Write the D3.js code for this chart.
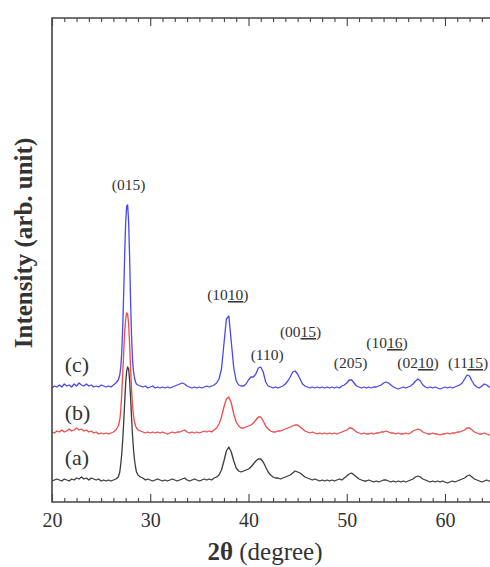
<!DOCTYPE html>
<html>
<head>
<meta charset="utf-8">
<script src="https://cdn.jsdelivr.net/npm/d3@7/dist/d3.min.js"></script>
<style>
  html, body { margin: 0; padding: 0; background: #fff; }
  svg { display: block; }
  text { font-family: "Liberation Serif", "Times New Roman", serif; fill: #333; }
</style>
</head>
<body>
<svg id="chart" width="490" height="567"></svg>
<script>
// ---- data (2θ in degrees, intensity in arbitrary units, curves already offset) ----
const twoTheta = [
  20,20.25,20.5,20.75,21,21.25,21.5,21.75,22,22.25,22.5,22.75,23,23.25,23.5,23.75,24,24.25,24.5,24.75,25,25.25,25.5,25.75,26,26.25,26.5,26.75,
  26.9,27,27.1,27.2,27.3,27.4,27.5,27.6,27.7,27.8,27.9,28,28.1,28.2,28.3,28.4,28.5,28.6,
  28.75,29,29.25,29.5,29.75,
  30,30.25,30.5,30.75,31,31.25,31.5,31.75,32,32.25,32.5,32.75,33,33.25,33.5,33.75,34,34.25,34.5,34.75,
  35,35.25,35.5,35.75,36,36.25,36.5,36.75,37,37.25,37.5,37.75,38,38.25,38.5,38.75,39,39.25,39.5,39.75,
  40,40.25,40.5,40.75,41,41.25,41.5,41.75,42,42.25,42.5,42.75,43,43.25,43.5,43.75,44,44.25,44.5,44.75,
  45,45.25,45.5,45.75,46,46.25,46.5,46.75,47,47.25,47.5,47.75,48,48.25,48.5,48.75,49,49.25,49.5,49.75,
  50,50.25,50.5,50.75,51,51.25,51.5,51.75,52,52.25,52.5,52.75,53,53.25,53.5,53.75,54,54.25,54.5,54.75,
  55,55.25,55.5,55.75,56,56.25,56.5,56.75,57,57.25,57.5,57.75,58,58.25,58.5,58.75,59,59.25,59.5,59.75,
  60,60.25,60.5,60.75,61,61.25,61.5,61.75,62,62.25,62.5,62.75,63,63.25,63.5,63.75,64,64.25,64.5,64.75,
  65,65.25
];

const sampleA = [
  21,22,23,22,21,23,22,21,23,22,24,23,25,23,24,22,24,23,22,23,21,22,21,22,21,22,23,25,
  30,38,48,62,80,100,119,131,135,133,122,104,84,66,52,42,35,30,
  27,25,24,22,23,
  22,21,22,23, 22,21,22,21, 22,23,22,21, 22,23,24,22, 21,22,23,22,
  21,22,23,22, 23,22,24,25, 27,32,41,51, 55,50,41,34, 31,30,31,32,
  33,35,38,41, 43,43,40,35, 30,27,25,24, 24,23,24,25, 26,27,29,31,
  30,29,27,25, 24,23,22,23, 22,21,22,21, 22,21,22,21, 22,23,22,24,
  26,28,29,27, 25,23,22,21, 21,22,21,20, 21,20,21,22, 22,21,20,21,
  20,21,20,21, 20,21,22,23, 25,26,25,23, 22,21,20,21, 20,21,20,21,
  20,19,20,21, 20,21,22,23, 24,26,27,25, 23,22,21,20, 21,22,21,20,
  21,20
];

const sampleB = [
  70,69,71,70,72,70,71,73,71,72,74,72,73,71,72,70,71,69,70,68,69,68,69,68,69,70,72,76,
  82,92,108,128,150,170,183,189,188,178,158,133,112,96,86,80,76,74,
  72,71,70,69,70,
  69,70,69,70, 69,70,69,68, 69,70,69,70, 70,71,72,70, 69,70,69,70,
  69,70,71,70, 71,70,72,74, 78,85,95,103, 105,99,88,80, 76,74,74,75,
  76,77,79,82, 85,85,81,76, 73,71,70,70, 71,71,72,73, 74,75,76,77,
  77,75,73,71, 70,69,70,69, 68,69,68,69, 68,69,68,69, 68,69,70,71,
  72,74,74,72, 70,69,68,69, 68,68,69,68, 69,69,70,70, 71,70,69,69,
  68,69,68,68, 69,68,69,71, 72,73,72,70, 69,68,68,69, 68,68,67,68,
  68,69,68,69, 69,70,70,71, 72,74,74,72, 70,69,68,68, 69,68,67,68,
  68,67
];

const sampleC = [
  114,116,115,117,115,118,116,117,115,118,116,119,117,116,118,116,117,115,116,115,117,116,115,116,115,117,119,122,
  127,135,150,175,210,248,280,296,297,280,245,200,165,142,130,124,120,118,
  117,116,115,116,114,
  115,116,114,115, 114,115,114,115, 114,115,116,117, 118,119,118,116, 115,114,115,114,
  115,114,115,116, 115,116,117,119, 123,133,158,183, 186,160,134,121, 117,116,116,118,
  122,125,125,128, 134,135,130,120, 116,115,114,115, 114,115,116,118, 121,125,130,131,
  128,123,118,116, 115,114,115,114, 115,114,115,114, 115,114,115,114, 115,114,116,117,
  119,122,122,119, 116,115,114,115, 114,115,114,115, 115,116,117,119, 120,119,117,115,
  114,113,114,115, 114,115,116,118, 121,123,121,117, 115,114,115,114, 115,114,113,114,
  115,114,115,114, 115,116,117,119, 123,127,126,121, 117,115,114,116, 118,117,115,114,
  115,114
];

const seriesNames = ["(a)", "(b)", "(c)"];
const seriesColors = ["#3c3c3c", "#f04848", "#4848f0"];
const seriesLabelAt = [[21.3, 37], [21.3, 82], [21.3, 130]]; // [2θ, intensity]

const xTicks = [20, 30, 40, 50, 60];

// peak annotations: [text before underline, underlined part, text after], anchor 2θ, intensity, alignment
const peakLabels = [
  { pre: "(015)", ul: "", post: "", t: 27.8, v: 312, anchor: "middle" },
  { pre: "(10", ul: "10", post: ")", t: 37.9, v: 202, anchor: "middle" },
  { pre: "(110)", ul: "", post: "", t: 41.9, v: 142, anchor: "middle" },
  { pre: "(00", ul: "15", post: ")", t: 45.3, v: 165, anchor: "middle" },
  { pre: "(205)", ul: "", post: "", t: 50.4, v: 134, anchor: "middle" },
  { pre: "(10", ul: "16", post: ")", t: 54.1, v: 154, anchor: "middle" },
  { pre: "(02", ul: "10", post: ")", t: 57.25, v: 134, anchor: "middle" },
  { pre: "(11", ul: "15", post: ")", t: 60.3, v: 134, anchor: "start" }
];

// ---- drawing ----
const svg = d3.select("#chart");
const x = d3.scaleLinear().domain([20, 65]).range([52, 494.1]);
const y = d3.scaleLinear().domain([0, 484]).range([502, 18]);

const series = [sampleA, sampleB, sampleC];
const line = d3.line()
  .defined(d => d[1] != null && !isNaN(d[1]))
  .x(d => x(d[0])).y(d => y(d[1]));

series.forEach((vals, i) => {
  const pts = twoTheta.map((t, j) => [t, vals[j]]);
  svg.append("path")
    .datum(pts)
    .attr("fill", "none")
    .attr("stroke", seriesColors[i])
    .attr("stroke-width", 1.3)
    .attr("stroke-linejoin", "round")
    .attr("d", line);
});

// axes
const minorTicks = d3.range(20, 65.01, 1.25).filter(v => !xTicks.includes(v));
const axisColor = "#444";

const gB = svg.append("g").attr("transform", "translate(0,502)");
gB.call(d3.axisBottom(x).tickValues(minorTicks).tickSize(-4).tickSizeOuter(0).tickFormat(""));
gB.call(g => g.select(".domain").remove());
const gB2 = svg.append("g").attr("transform", "translate(0,502)");
gB2.call(d3.axisBottom(x).tickValues(xTicks).tickSize(-8).tickSizeOuter(0).tickPadding(11).tickFormat(d3.format("d")));
gB2.call(g => g.select(".domain").remove());
gB2.selectAll("text").style("font-size", "20px").attr("fill", "#333");

const gT = svg.append("g").attr("transform", "translate(0,18)");
gT.call(d3.axisTop(x).tickValues(minorTicks).tickSize(-4).tickSizeOuter(0).tickFormat(""));
gT.call(g => g.select(".domain").remove());
const gT2 = svg.append("g").attr("transform", "translate(0,18)");
gT2.call(d3.axisTop(x).tickValues(xTicks).tickSize(-8).tickSizeOuter(0).tickFormat(""));
gT2.call(g => g.select(".domain").remove());

svg.selectAll(".tick line").attr("stroke", axisColor).attr("stroke-width", 1.1);

// frame
svg.append("path")
  .attr("d", `M490,18 H52 V502 H490`)
  .attr("fill", "none")
  .attr("stroke", axisColor)
  .attr("stroke-width", 1.6);

// axis titles
const xt = svg.append("text")
  .attr("x", 265).attr("y", 560)
  .attr("text-anchor", "middle")
  .style("font-size", "25px");
xt.append("tspan").style("font-weight", "bold").text("2θ");
xt.append("tspan").text(" (degree)");

svg.append("text")
  .attr("transform", "translate(32,243) rotate(-90)")
  .attr("text-anchor", "middle")
  .style("font-size", "25px")
  .style("font-weight", "bold")
  .text("Intensity (arb. unit)");

// series labels
seriesNames.forEach((n, i) => {
  svg.append("text")
    .attr("x", x(seriesLabelAt[i][0]))
    .attr("y", y(seriesLabelAt[i][1]))
    .style("font-size", "22px")
    .text(n);
});

// peak labels
peakLabels.forEach(p => {
  const t = svg.append("text")
    .attr("x", x(p.t)).attr("y", y(p.v))
    .attr("text-anchor", p.anchor)
    .style("font-size", "15.5px");
  t.append("tspan").text(p.pre);
  if (p.ul) {
    t.append("tspan").style("text-decoration", "underline").text(p.ul);
    t.append("tspan").text(p.post);
  }
});
</script>
</body>
</html>
